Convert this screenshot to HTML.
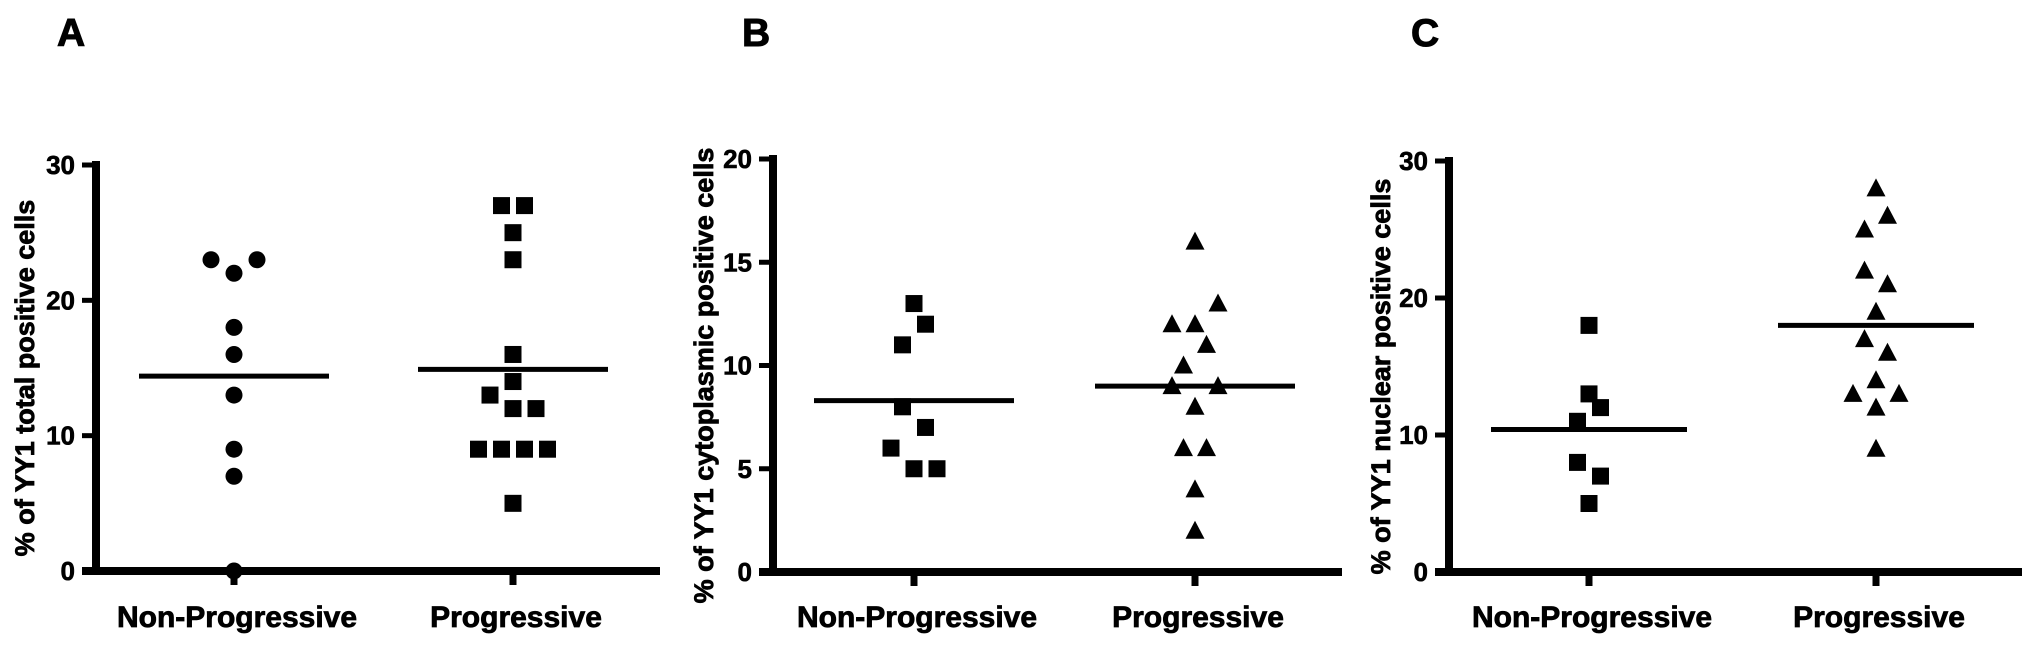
<!DOCTYPE html>
<html><head><meta charset="utf-8"><style>
html,body{margin:0;padding:0;background:#fff;width:2031px;height:646px;overflow:hidden}
svg text{font-family:"Liberation Sans",Arial,sans-serif;font-weight:bold;fill:#000}
</style></head><body>
<svg id="fig" width="2031" height="646" viewBox="0 0 2031 646" xmlns="http://www.w3.org/2000/svg"></svg>
<script>
// ---- Data ----
const categories = ["Non-Progressive", "Progressive"];
// Panel A: total positive
const aNonProg = [23, 23, 22, 18, 16, 13, 9, 7, 0];
const aNonProgSlot = [-2, 2, 0, 0, 0, 0, 0, 0, 0];
const aProg = [27, 27, 25, 23, 16, 14, 13, 12, 12, 9, 9, 9, 9, 5];
const aProgSlot = [-1, 1, 0, 0, 0, 0, -2, 0, 2, -3, -1, 1, 3, 0];
const aMeans = [14.4, 14.9];
const aTicks = [0, 10, 20, 30];
// Panel B: cytoplasmic
const bNonProg = [13, 12, 11, 8, 7, 6, 5, 5];
const bNonProgSlot = [0, 1, -1, -1, 1, -2, 0, 2];
const bProg = [16, 13, 12, 12, 11, 10, 9, 9, 8, 6, 6, 4, 2];
const bProgSlot = [0, 2, -2, 0, 1, -1, -2, 2, 0, -1, 1, 0, 0];
const bMeans = [8.3, 9.0];
const bTicks = [0, 5, 10, 15, 20];
// Panel C: nuclear
const cNonProg = [18, 13, 12, 11, 8, 7, 5];
const cNonProgSlot = [0, 0, 1, -1, -1, 1, 0];
const cProg = [28, 26, 25, 22, 21, 19, 17, 16, 14, 13, 13, 12, 9];
const cProgSlot = [0, 1, -1, -1, 1, 0, -1, 1, 0, -2, 2, 0, 0];
const cMeans = [10.4, 18.0];
const cTicks = [0, 10, 20, 30];

const NS = "http://www.w3.org/2000/svg";
const svg = document.getElementById("fig");
function mk(tag, attrs, parent) {
  const e = document.createElementNS(NS, tag);
  for (const k in attrs) e.setAttribute(k, attrs[k]);
  (parent || svg).appendChild(e);
  return e;
}

const panels = [
  {id:"a", letter:"A", lx:57, ax:96, ay0:571, ayTop:165, xEnd:660, catX:[234,513], yMax:30,
   title:"% of YY1 total positive cells", tx:24, ticks:aTicks,
   series:[[aNonProg,aNonProgSlot,"circle"],[aProg,aProgSlot,"square"]], means:aMeans, meanHalf:95},
  {id:"b", letter:"B", lx:742, ax:773, ay0:572, ayTop:159, xEnd:1342, catX:[914,1195], yMax:20,
   title:"% of YY1 cytoplasmic positive cells", tx:703, ticks:bTicks,
   series:[[bNonProg,bNonProgSlot,"square"],[bProg,bProgSlot,"triangle"]], means:bMeans, meanHalf:100},
  {id:"c", letter:"C", lx:1411, ax:1449, ay0:572, ayTop:161, xEnd:2022, catX:[1589,1876], yMax:30,
   title:"% of YY1 nuclear positive cells", tx:1380, ticks:cTicks,
   series:[[cNonProg,cNonProgSlot,"square"],[cProg,cProgSlot,"triangle"]], means:cMeans, meanHalf:98}
];

const SLOT = 11.5;
panels.forEach(p => {
  const g = mk("g", {});
  
  
  const yS = v => p.ay0 - (v / p.yMax) * (p.ay0 - p.ayTop);

  const L = mk("text", {x:p.lx, y:46, "font-size":39, stroke:"#000", "stroke-width":1}, g);
  L.textContent = p.letter;
  
  

  const T = mk("text", {x:0, y:0, "font-size":27, "text-anchor":"middle", stroke:"#000", "stroke-width":0.8,
    transform:`translate(${p.tx + 10},${(p.ayTop + p.ay0) / 2 + 10}) rotate(-90)`}, g);
  T.textContent = p.title;
  
  

  const yAx = mk("line", {x1:p.ax, y1:p.ayTop - 4, x2:p.ax, y2:p.ay0 + 4, stroke:"#000", "stroke-width":8}, g);
  
  
  const xAx = mk("line", {x1:p.ax - 14, y1:p.ay0, x2:p.xEnd, y2:p.ay0, stroke:"#000", "stroke-width":8}, g);
  
  

  p.ticks.forEach(t => {
    const y = yS(t);
    const tk = mk("line", {x1:p.ax - 14, y1:y, x2:p.ax, y2:y, stroke:"#000", "stroke-width":5}, g);
    
    
    const tl = mk("text", {x:p.ax - 21, y:y + 9, "font-size":26, "text-anchor":"end", stroke:"#000", "stroke-width":0.6}, g);
    tl.textContent = t;
    
    
  });

  categories.forEach((c, i) => {
    const x = p.catX[i];
    const tk = mk("line", {x1:x, y1:p.ay0, x2:x, y2:p.ay0 + 14, stroke:"#000", "stroke-width":7}, g);
    
    
    const tl = mk("text", {x:x + 3, y:627, "font-size":30, "text-anchor":"middle", stroke:"#000", "stroke-width":0.8}, g);
    tl.textContent = c;
    
    

    const [vals, slots, shape] = p.series[i];
    vals.forEach((v, j) => {
      const cx = x + slots[j] * SLOT, cy = yS(v);
      let m;
      if (shape === "circle") m = mk("circle", {cx:cx, cy:cy, r:8.5, fill:"#000"}, g);
      else if (shape === "square") m = mk("rect", {x:cx - 8.5, y:cy - 8.5, width:17, height:17, fill:"#000"}, g);
      else m = mk("polygon", {points:`${cx},${cy - 10} ${cx - 9.5},${cy + 8} ${cx + 9.5},${cy + 8}`, fill:"#000"}, g);
      
      
    });

    const my = yS(p.means[i]);
    const ml = mk("line", {x1:x - p.meanHalf, y1:my, x2:x + p.meanHalf, y2:my, stroke:"#000", "stroke-width":5}, g);
    
    
  });
});
</script>
</body></html>
